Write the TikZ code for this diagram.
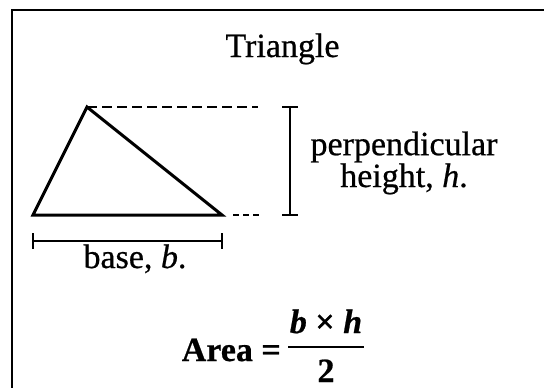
\documentclass[tikz,border=0pt]{standalone}
\usepackage{fontspec}
\setmainfont{Liberation Serif}[FakeBold=0.6]
\begin{document}
\begin{tikzpicture}[x=1pt,y=-1pt,
  txt/.style={inner sep=0pt, anchor=base, font=\fontsize{34}{30}\selectfont},
  tri/.style={line width=3pt, line join=miter, miter limit=4},
  guide/.style={line width=2pt, dash pattern=on 10pt off 5pt},
  shortguide/.style={line width=2pt, dash pattern=on 6pt off 4pt},
  bar/.style={line width=2pt},
  frame/.style={line width=2pt}]
\useasboundingbox (0,0) rectangle (544,388);
\fill[white] (0,0) rectangle (544,388);
% frame (cut off at right and bottom)
\coordinate (f1) at (12,388);
\coordinate (f2) at (12,10);
\coordinate (f3) at (544,10);
\draw[frame] (f1) -- (f2) -- (f3);
% triangle
\coordinate (A) at (87,107);
\coordinate (B) at (33,215);
\coordinate (C) at (222,215);
\draw[tri] (A) -- (B) -- (C) -- cycle;
% height guides
\coordinate (Ad) at (258,107);
\coordinate (Cd1) at (233,215);
\coordinate (Cd2) at (260,215);
\draw[guide] (A) -- (Ad);
\draw[shortguide] (Cd1) -- (Cd2);
% height bar
\coordinate (H1) at (290,107);
\coordinate (H2) at (290,215);
\coordinate (H1l) at (282,107);
\coordinate (H1r) at (298,107);
\coordinate (H2l) at (282,215);
\coordinate (H2r) at (298,215);
\draw[bar] (H1) -- (H2);
\draw[bar] (H1l) -- (H1r);
\draw[bar] (H2l) -- (H2r);
% base bar
\coordinate (b1) at (33,241);
\coordinate (b2) at (222,241);
\coordinate (b1t) at (33,233);
\coordinate (b1b) at (33,249);
\coordinate (b2t) at (222,233);
\coordinate (b2b) at (222,249);
\draw[bar] (b1) -- (b2);
\draw[bar] (b1t) -- (b1b);
\draw[bar] (b2t) -- (b2b);
% texts
\node[txt] (title) at (282.5,57) {Triangle};
\node[txt] (base) at (135,268) {base, \textit{b}.};
\node[txt, align=center] (perp) at (404,187) {perpendicular\\height, \textit{h}.};
% formula
\node[txt, anchor=base east] (area) at (281,361) {\textbf{Area =}};
\node[txt] (num) at (326,333) {\textbf{\textit{b} × \textit{h}}};
\node[txt] (den) at (326,382) {\textbf{2}};
\coordinate (fb1) at (288,346.5);
\coordinate (fb2) at (364,346.5);
\draw[bar] (fb1) -- (fb2);
\end{tikzpicture}
\end{document}
